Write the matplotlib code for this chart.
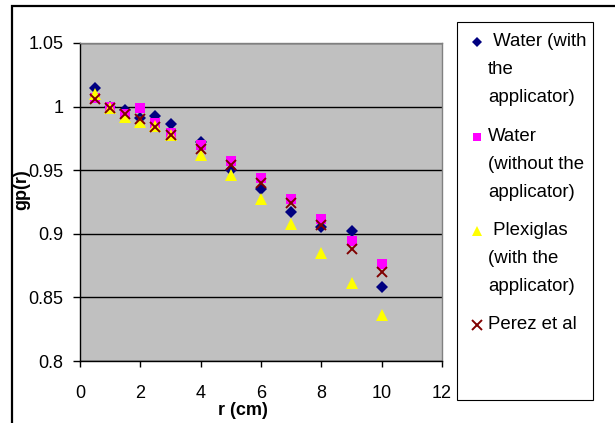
import matplotlib
matplotlib.use("Agg")
import matplotlib.pyplot as plt
from matplotlib.lines import Line2D
from matplotlib.patches import Rectangle
from matplotlib.ticker import FuncFormatter

plt.rcParams['font.family'] = ['Liberation Sans', 'DejaVu Sans']

# distance from source (cm)
r = [0.5, 1, 1.5, 2, 2.5, 3, 4, 5, 6, 7, 8, 9, 10]

# radial dose function values
water_app = [1.015, 1.000, 0.997, 0.991, 0.993, 0.986, 0.972, 0.950, 0.935, 0.917, 0.905, 0.902, 0.858]
water_noapp = [1.007, 1.000, 0.994, 0.999, 0.987, 0.979, 0.970, 0.957, 0.944, 0.927, 0.912, 0.894, 0.876]
plexi = [1.010, 0.999, 0.992, 0.988, 0.985, 0.978, 0.962, 0.946, 0.927, 0.908, 0.885, 0.861, 0.836]
perez = [1.006, 0.999, 0.994, 0.990, 0.984, 0.978, 0.967, 0.954, 0.940, 0.924, 0.907, 0.888, 0.870]

labels = [" Water (with\nthe\napplicator)",
          "Water\n(without the\napplicator)",
          " Plexiglas\n(with the\napplicator)",
          "Perez et al"]

W, H = 615, 423
fig = plt.figure(figsize=(W / 100, H / 100), dpi=100)
ax = fig.add_axes([80 / W, 1 - 361 / H, 362 / W, 318 / H])
ax.set_facecolor('#C0C0C0')

styles = [
    dict(marker='D', color='#000080', ms=6.3, mew=0),
    dict(marker='s', color='#FF00FF', ms=6.6, mew=0),
    dict(marker='^', color='#FFFF00', ms=8.0, mew=0),
    dict(marker='x', color='#800000', ms=7.2, mew=1.4),
]
series = [water_app, water_noapp, plexi, perez]
for ys, st in zip(series, styles):
    ax.plot(r, ys, linestyle='none', **st)

ax.set_xlim(0, 12)
ax.set_ylim(0.8, 1.05)
ax.set_xticks(range(0, 13, 2))
ax.set_yticks([0.8, 0.85, 0.9, 0.95, 1.0, 1.05])
ax.yaxis.set_major_formatter(FuncFormatter(lambda v, p: '%g' % round(v, 2)))
ax.grid(axis='y', color='black', lw=1)
ax.set_axisbelow(True)

for s in ['top', 'right']:
    ax.spines[s].set_color('#808080')
    ax.spines[s].set_linewidth(1)
for s in ['left', 'bottom']:
    ax.spines[s].set_color('black')
    ax.spines[s].set_linewidth(1)

ax.tick_params(axis='x', direction='out', length=4.5, width=1, pad=13, labelsize=13)
ax.tick_params(axis='y', direction='out', length=5, width=1, pad=7, labelsize=13)

ax.set_xlabel('r (cm)', fontsize=13, fontweight='bold')
ax.xaxis.set_label_coords(0.45, -0.128)
ax.set_ylabel('gp(r)', fontsize=13, fontweight='bold')
ax.yaxis.set_label_coords(-0.137, 0.538)

# outer chart frame (cropped at right and bottom)
fig.add_artist(Rectangle((12 / W, -0.1), 1.2, (H - 6) / H + 0.1,
                         transform=fig.transFigure, fill=False,
                         edgecolor='black', lw=1.6))

# legend box
fig.add_artist(Rectangle((457 / W, 1 - 400 / H), 136 / W, 378 / H,
                         transform=fig.transFigure, fill=False,
                         edgecolor='black', lw=0.8))
leg_y = [42, 137, 231, 325]
leg_ms = [5.0, 5.5, 7.0, 6.5]
for lab, st, yy, ms in zip(labels, styles, leg_y, leg_ms):
    st2 = dict(st)
    st2['ms'] = ms
    fig.add_artist(Line2D([477 / W], [1 - yy / H], transform=fig.transFigure,
                          linestyle='none', **st2))
    fig.text(488 / W, 1 - (yy - 9) / H, lab, fontsize=13.4, va='top',
             ha='left', linespacing=1.86)

fig.savefig('out.png', dpi=100)
